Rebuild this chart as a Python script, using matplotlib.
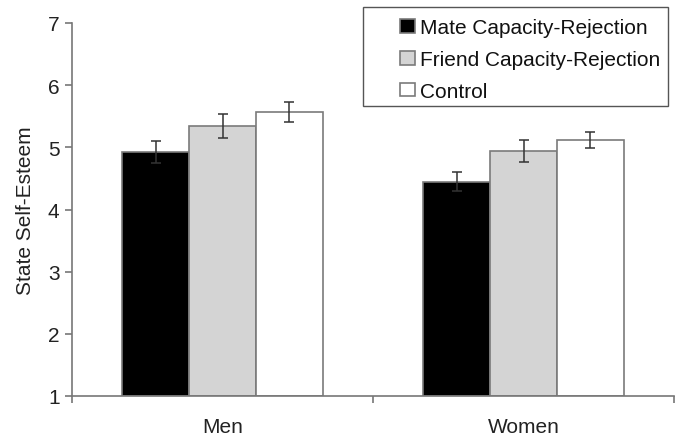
import matplotlib
matplotlib.use("Agg")
import matplotlib.pyplot as plt
from matplotlib.patches import Rectangle
import numpy as np

plt.rcParams['font.family'] = ['Liberation Sans', 'DejaVu Sans']

groups = ["Men", "Women"]
series = ["Mate Capacity-Rejection", "Friend Capacity-Rejection", "Control"]
means = {
    "Mate Capacity-Rejection": [4.92, 4.45],
    "Friend Capacity-Rejection": [5.34, 4.94],
    "Control": [5.57, 5.12],
}
errors = {
    "Mate Capacity-Rejection": [0.18, 0.15],
    "Friend Capacity-Rejection": [0.19, 0.18],
    "Control": [0.16, 0.13],
}
fills = ["#000000", "#d4d4d4", "#ffffff"]
yticks = [1, 2, 3, 4, 5, 6, 7]

FS = 15
fig = plt.figure(figsize=(6.75, 4.39), dpi=100)
ax = fig.add_axes([72/675, 1-397/439, (674-72)/675, (397-24)/439])

x = np.arange(len(groups))
w = 0.222
for i, s in enumerate(series):
    ax.bar(x + (i-1)*w, np.array(means[s]) - 1, width=w, bottom=1,
           color=fills[i], edgecolor="#7a7a7a", linewidth=1.2, label=s, zorder=2)
    ax.errorbar(x + (i-1)*w, means[s], yerr=errors[s], fmt='none',
                ecolor="#333333", elinewidth=1.1, capsize=3.5, capthick=1.1, zorder=3)

ax.set_xlim(-0.5, 1.5)
ax.set_ylim(1, 7)
ax.set_yticks(yticks)
ax.set_yticklabels([str(t) for t in yticks], fontsize=FS, color="#222222")
ax.set_xticks([-0.5, 0.5, 1.5])
ax.set_xticklabels(["", "", ""])
ax.set_xticks(x, minor=True)
ax.set_xticklabels(groups, minor=True, fontsize=FS, color="#222222")
ax.tick_params(axis='x', which='minor', length=0, pad=15)
ax.tick_params(axis='x', which='major', length=5, color="#777777", width=1.2)
ax.tick_params(axis='y', length=5, color="#777777", width=1.2, pad=4)
ax.set_ylabel("State Self-Esteem", fontsize=FS, color="#222222", labelpad=9)

for sp in ["top", "right"]:
    ax.spines[sp].set_visible(False)
for sp in ["left", "bottom"]:
    ax.spines[sp].set_color("#777777")
    ax.spines[sp].set_linewidth(1.2)

# legend frame
frame = Rectangle((363/675, 1-107/439), (668-363)/675, (107-8)/439,
                  transform=fig.transFigure, facecolor="white",
                  edgecolor="#555555", linewidth=1.0, zorder=5, clip_on=False)
ax.add_patch(frame)
leg = ax.legend(loc="upper left", bbox_to_anchor=(400/675, 1-19/439),
                bbox_transform=fig.transFigure, fontsize=FS, frameon=False,
                handlelength=0.7, handleheight=0.65,
                handletextpad=0.25, borderpad=0, labelspacing=0.62,
                borderaxespad=0)
leg.set_zorder(6)
for t in leg.get_texts():
    t.set_color("#111111")

fig.savefig("out.png", dpi=100)
